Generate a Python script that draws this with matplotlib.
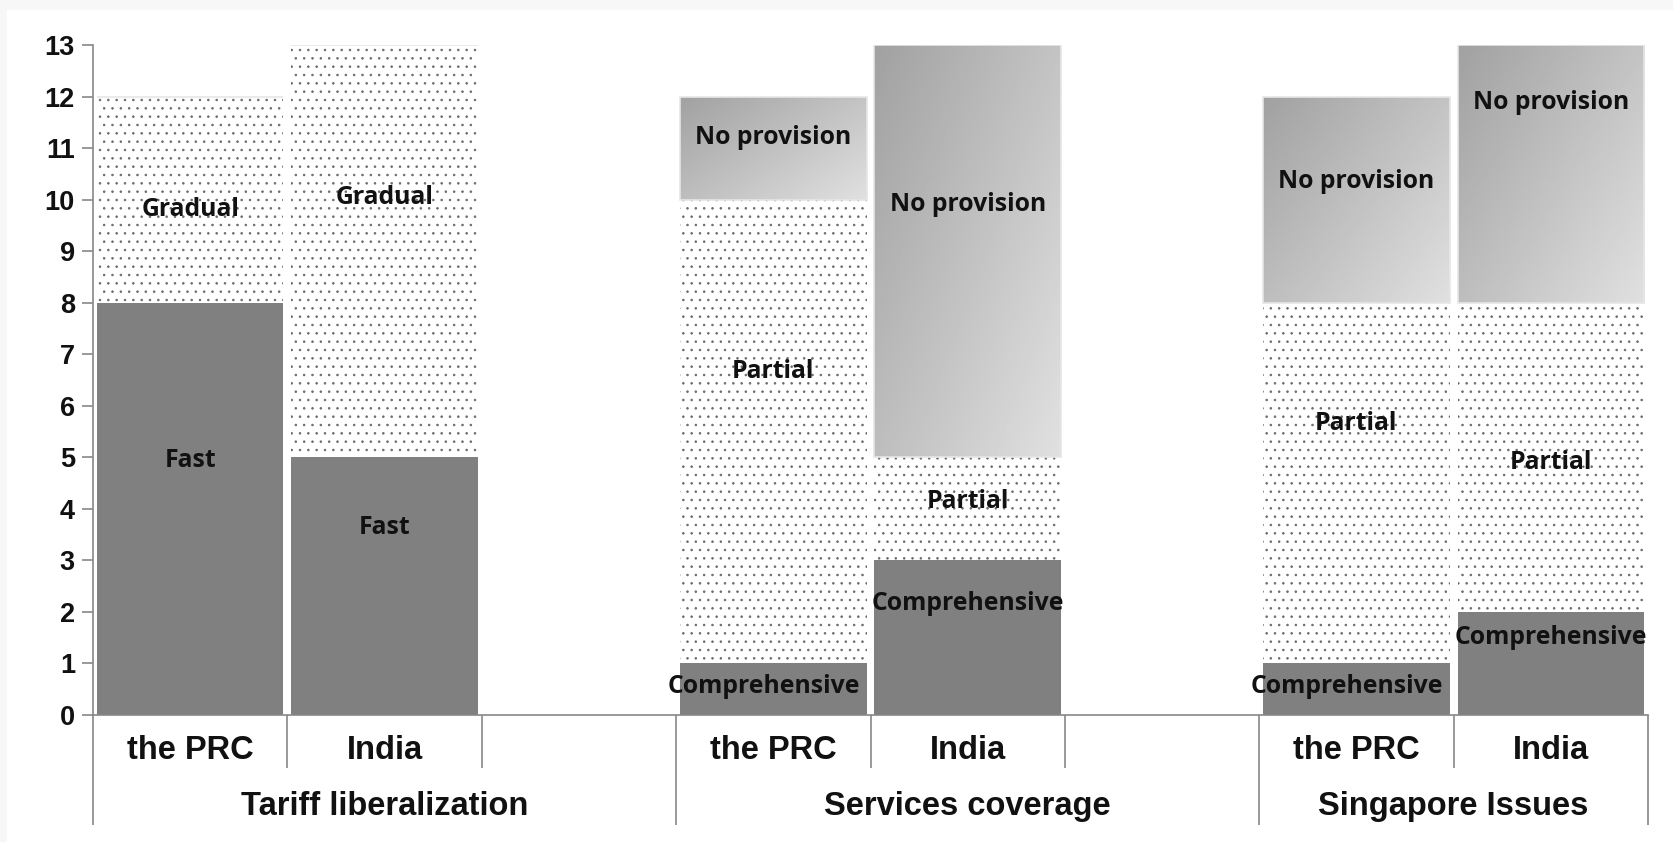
import numpy as np
import matplotlib.pyplot as plt
from matplotlib.patches import Rectangle

plt.rcParams['hatch.linewidth'] = 0.6

# data
groups = ['Tariff liberalization', 'Services coverage', 'Singapore Issues']
countries = ['the PRC', 'India']
slot_pos = [0, 1, 3, 4, 6, 7]   # two bars per group, one empty slot between groups

# bottom segment / middle segment / top segment per bar
seg_names = [['Fast', 'Gradual', None], ['Fast', 'Gradual', None],
             ['Comprehensive', 'Partial', 'No provision'], ['Comprehensive', 'Partial', 'No provision'],
             ['Comprehensive', 'Partial', 'No provision'], ['Comprehensive', 'Partial', 'No provision']]
bottom_vals = [8, 5, 1, 3, 1, 2]
middle_vals = [4, 8, 9, 2, 7, 6]
top_vals = [0, 0, 2, 8, 4, 5]

# where the text boxes sit inside each bar
label_y = [[4.93, 9.8, None], [3.63, 10.05, None],
           [0.56, 6.67, 11.2], [2.16, 4.15, 9.9],
           [0.56, 5.66, 10.36], [1.5, 4.9, 11.88]]
label_dx = [[0, 0, 0], [0, 0, 0],
            [-0.05, 0, 0], [0, 0, 0],
            [-0.05, 0, 0], [0, 0, 0]]

axis_col = '#888888'
W, H = 1673, 842
fig = plt.figure(figsize=(W / 100, H / 100), dpi=100)
fig.patch.set_facecolor('#f7f7f7')
bg = Rectangle((7 / W, 0), 1, 1 - 10 / H, transform=fig.transFigure,
               facecolor='white', edgecolor='none', zorder=-10)
fig.add_artist(bg)

ax = fig.add_axes([93 / W, 1 - 715 / H, (1648 - 93) / W, (715 - 45) / H])
ax.set_zorder(1)
ax.set_facecolor('none')

bw = 0.96
bot = np.array(bottom_vals, dtype=float)
mid = np.array(middle_vals, dtype=float)
top = np.array(top_vals, dtype=float)

ax.bar(slot_pos, bot, width=bw, color='#808080', edgecolor='none', zorder=2)
ax.bar(slot_pos, mid, width=bw, bottom=bot, color='white', edgecolor='#6a6a6a',
       linewidth=0, hatch='..', zorder=2)
tbars = ax.bar(slot_pos, top, width=bw, bottom=bot + mid, color='none',
               edgecolor='#e6e6e6', linewidth=1.2, zorder=3)

# diagonal grey gradient for "No provision"
gx, gy = np.meshgrid(np.linspace(0, 1, 200), np.linspace(0, 1, 200))
grad = 0.63 + 0.25 * (0.55 * gx + 0.45 * gy)
for p in tbars:
    if p.get_height() <= 0:
        continue
    x0, y0 = p.get_x(), p.get_y()
    im = ax.imshow(grad, cmap='gray', vmin=0, vmax=1, origin='upper',
                   extent=(x0, x0 + p.get_width(), y0, y0 + p.get_height()),
                   aspect='auto', interpolation='bilinear', zorder=2.5)
    im.set_clip_path(p)

ax.set_xlim(-0.5, 7.5)
ax.set_ylim(0, 13)
ax.set_yticks(range(0, 14))

# bar labels
for i, x in enumerate(slot_pos):
    for k in range(3):
        name = seg_names[i][k]
        if name is None:
            continue
        ax.text(x + label_dx[i][k], label_y[i][k], name, ha='center', va='center',
                fontsize=17.8, fontweight='bold', family='Open Sans', color='#111111', zorder=5)

# axes styling
for s in ['top', 'right']:
    ax.spines[s].set_visible(False)
for s in ['left', 'bottom']:
    ax.spines[s].set_color(axis_col)
    ax.spines[s].set_linewidth(1.2)
    ax.spines[s].set_zorder(4)

ax.tick_params(axis='y', direction='out', length=8, width=1.2, color=axis_col, pad=5,
               labelsize=19.5, labelcolor='#111111')
for lab in ax.get_yticklabels():
    lab.set_fontweight('bold')
    lab.set_family('Liberation Sans')

# category separators as ticks: short ones inside groups, long ones at group edges
ax.set_xticks([-0.5, 2.5, 5.5, 7.5])
ax.set_xticklabels([])
ax.set_xticks([0.5, 1.5, 3.5, 4.5, 6.5], minor=True)
ax.tick_params(axis='x', which='major', direction='out', length=79, width=1.2, color=axis_col)
ax.tick_params(axis='x', which='minor', direction='out', length=38, width=1.2, color=axis_col)

tr = ax.get_xaxis_transform()
for g in range(3):
    for c in range(2):
        ax.text(slot_pos[2 * g + c], -0.053, countries[c], transform=tr, ha='center', va='center',
                fontsize=23.5, fontweight='bold', family='Liberation Sans', color='#111111')
    ax.text((slot_pos[2 * g] + slot_pos[2 * g + 1] + (1 if g < 2 else 0)) / 2, -0.137, groups[g],
            transform=tr, ha='center', va='center',
            fontsize=23.5, fontweight='bold', family='Liberation Sans', color='#111111')

fig.savefig('out.png', dpi=100, facecolor=fig.get_facecolor())
